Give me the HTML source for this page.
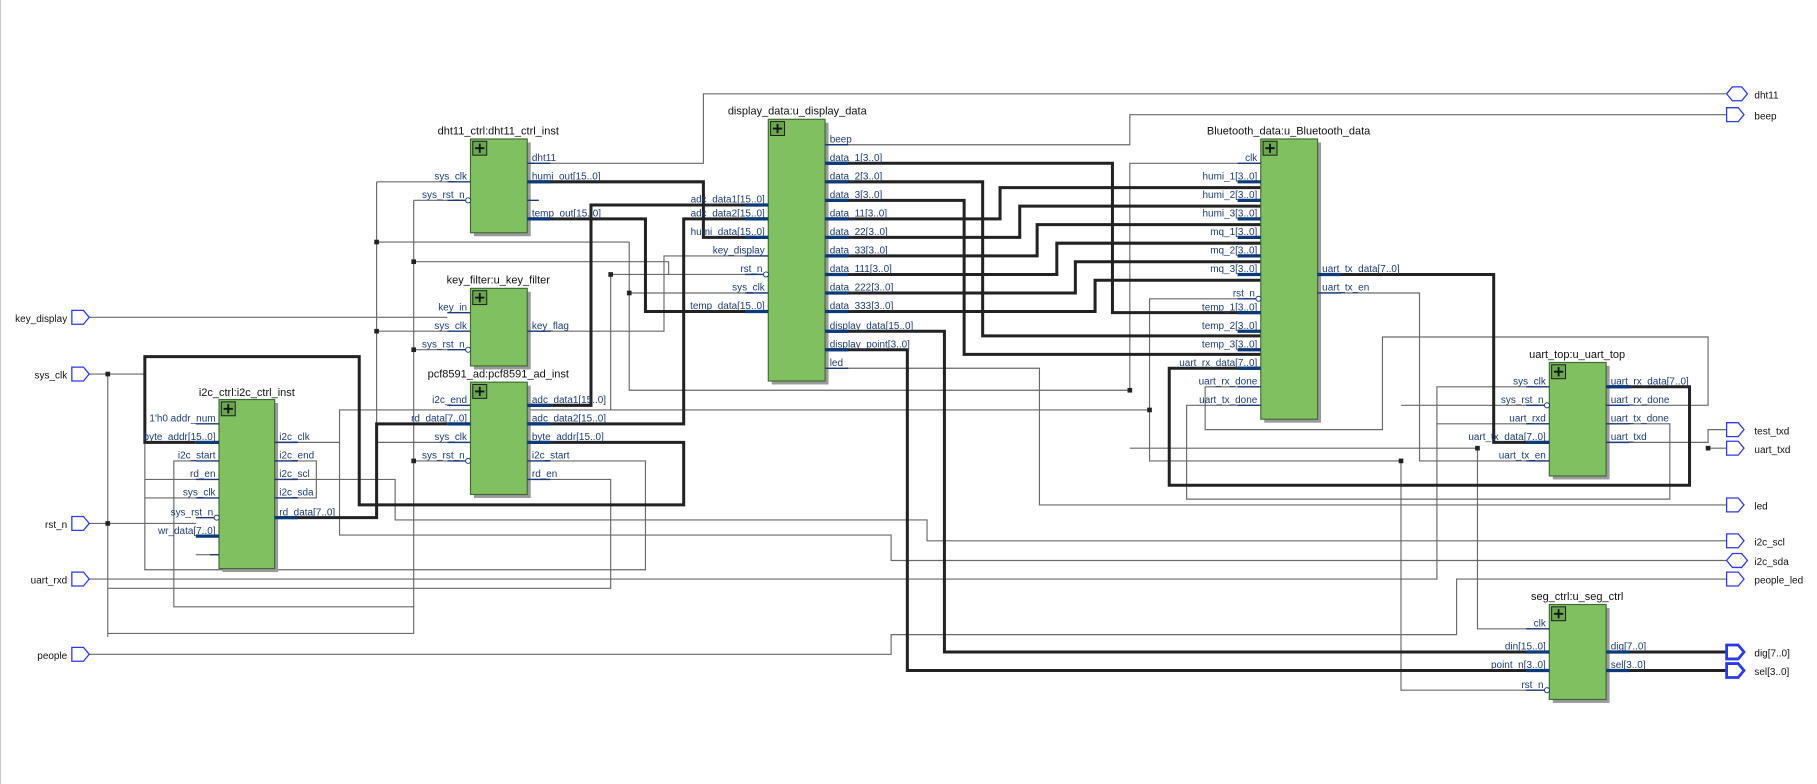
<!DOCTYPE html>
<html><head><meta charset="utf-8"><style>
html,body{margin:0;padding:0;background:#fff;width:1817px;height:784px;overflow:hidden}
svg{display:block}
text{font-family:"Liberation Sans",sans-serif;font-size:8.6px}
.l{fill:#1c3c78}
.e{text-anchor:end}
.t{fill:#111;font-size:9.5px;text-anchor:middle}
.pt{fill:#111;font-size:10px}
.w{stroke:#6a6a6a;stroke-width:1;fill:none}
.W{stroke:#222;stroke-width:2.6;fill:none}
.p{stroke:#1c3c78;stroke-width:1.2}
.P{stroke:#0a3a78;stroke-width:2.8}
.blk{fill:#80c060;stroke:#3f6a35;stroke-width:1}
.sh{fill:#9a9a9a}
.port{fill:#fff;stroke:#2a3ae8;stroke-width:1.1}
.portB{fill:#fff;stroke:#2a3ae8;stroke-width:2.4}
.bub{fill:#fff;stroke:#1c3c78;stroke-width:0.8}
</style></head><body>
<svg width="1817" height="784" viewBox="0 0 1568 677" preserveAspectRatio="none">
<line x1="0.5" y1="0" x2="0.5" y2="677" stroke="#c8c8c8" stroke-width="1"/>

<!-- thin wires -->
<path class="w" d="
M455,141 H607 V81 H1490
M712,125 H975 V99 H1490
M76,274 H386
M76,323 H93 V547 H357 V226 H577 V237 H663
M93,323 H125 V430 H169
M93,452 H76
M93,452 V550
M325,157 H386 M325,157 V323 M325,209 H543 V337 H975 V141 H1088
M325,286 H386 M325,209 V286
M325,382 H386 M325,323 V382
M357,173 H386 M357,302 H386 M357,398 H386 M357,173 V226
M93,452 H169
M543,253 H663 M543,209 V253
M527,237 H663 M527,237 V354 H293 V462 H769 V484 H1490
M455,286 H573 V221 H663
M237,382 H293 V354
M237,414 H341 V449 H800 V467 H1490
M76,500 H1240 V334 H1270 H1337
M76,565 H769 V548 H1257 V500 H1490
M712,318 H897 V436 H1490
M975,387 H1275 V543 H1337
M1137,253 H1225 V398 H1337
M1088,258 H992 V398 H1209 V596 H1337
M1209,350 H1337
M992,354 H293
M1386,350 H1474 V291 H1193 V371 H1040 V334 H1088
M1386,366 H1441 V431 H1024 V350 H1088
M1386,382 H1474 V371 H1490 M1474,387 H1490
M1240,366 H1337
M455,398 H557 V492 H125 V414 H169
M455,414 H527 V508 H93
M169,398 H150 V524 H357 V398
M237,398 H273 V430 H237
M169,463 H185 M169,479 H189
"/>
<!-- thick buses -->
<path class="W" d="
M455,157 H607 V205 H663
M455,189 H557 V269 H663
M455,350 H510 V177 H663
M455,366 H590 V189 H663
M455,382 H590 V436 H310 V308 H125 V382 H169
M237,447 H325 V366 H386
M712,141 H960 V270 H1088
M712,157 H848 V290 H1088
M712,173 H832 V306 H1088
M712,189 H863 V162 H1088
M712,205 H880 V178 H1088
M712,221 H895 V194 H1088
M712,237 H912 V210 H1088
M712,253 H928 V226 H1088
M712,269 H945 V242 H1088
M712,286 H815 V563 H1337
M712,302 H783 V579 H1337
M1137,237 H1289 V382 H1337
M1386,334 H1458 V419 H1009 V318 H1088
M1386,563 H1490 M1386,579 H1490
"/>
<!-- dots -->
<g fill="#222">
<rect x="91" y="321" width="4" height="4"/><rect x="91" y="450" width="4" height="4"/>
<rect x="323" y="207" width="4" height="4"/><rect x="323" y="284" width="4" height="4"/>
<rect x="355" y="224" width="4" height="4"/><rect x="355" y="300" width="4" height="4"/><rect x="355" y="396" width="4" height="4"/>
<rect x="541" y="251" width="4" height="4"/><rect x="525" y="235" width="4" height="4"/>
<rect x="973" y="335" width="4" height="4"/><rect x="990" y="352" width="4" height="4"/>
<rect x="1207" y="396" width="4" height="4"/><rect x="1273" y="385" width="4" height="4"/>
<rect x="1472" y="385" width="4" height="4"/>
</g>

<!-- ports left -->
<g class="port">
<polygon points="62,268 72,268 77,274 72,280 62,280"/>
<polygon points="62,317 72,317 77,323 72,329 62,329"/>
<polygon points="62,446 72,446 77,452 72,458 62,458"/>
<polygon points="62,494 72,494 77,500 72,506 62,506"/>
<polygon points="62,559 72,559 77,565 72,571 62,571"/>
</g>
<g class="pt">
<text x="58" y="278" text-anchor="end">key_display</text>
<text x="58" y="327" text-anchor="end">sys_clk</text>
<text x="58" y="456" text-anchor="end">rst_n</text>
<text x="58" y="504" text-anchor="end">uart_rxd</text>
<text x="58" y="569" text-anchor="end">people</text>
</g>
<!-- ports right -->
<g class="port">
<polygon points="1490,81 1495,75 1503,75 1508,81 1503,87 1495,87"/>
<polygon points="1490,93 1500,93 1505,99 1500,105 1490,105"/>
<polygon points="1490,365 1500,365 1505,371 1500,377 1490,377"/>
<polygon points="1490,381 1500,381 1505,387 1500,393 1490,393"/>
<polygon points="1490,430 1500,430 1505,436 1500,442 1490,442"/>
<polygon points="1490,461 1500,461 1505,467 1500,473 1490,473"/>
<polygon points="1490,484 1495,478 1503,478 1508,484 1503,490 1495,490"/>
<polygon points="1490,494 1500,494 1505,500 1500,506 1490,506"/>
</g>
<g class="portB">
<polygon points="1490,557 1500,557 1505,563 1500,569 1490,569"/>
<polygon points="1490,573 1500,573 1505,579 1500,585 1490,585"/>
</g>
<g class="pt">
<text x="1514" y="85">dht11</text><text x="1514" y="103">beep</text>
<text x="1514" y="375">test_txd</text><text x="1514" y="391">uart_txd</text>
<text x="1514" y="440">led</text><text x="1514" y="471">i2c_scl</text>
<text x="1514" y="488">i2c_sda</text><text x="1514" y="504">people_led</text>
<text x="1514" y="567">dig[7..0]</text><text x="1514" y="583">sel[3..0]</text>
</g>

<!-- blocks -->
<g>
<rect class="sh" x="409" y="123" width="49" height="81"/><rect class="blk" x="406" y="120" width="49" height="81"/>
<rect class="sh" x="409" y="252" width="49" height="67"/><rect class="blk" x="406" y="249" width="49" height="67"/>
<rect class="sh" x="409" y="333" width="49" height="97"/><rect class="blk" x="406" y="330" width="49" height="97"/>
<rect class="sh" x="192" y="348" width="48" height="146"/><rect class="blk" x="189" y="345" width="48" height="146"/>
<rect class="sh" x="666" y="106" width="49" height="226"/><rect class="blk" x="663" y="103" width="49" height="226"/>
<rect class="sh" x="1091" y="123" width="49" height="242"/><rect class="blk" x="1088" y="120" width="49" height="242"/>
<rect class="sh" x="1340" y="316" width="49" height="98"/><rect class="blk" x="1337" y="313" width="49" height="98"/>
<rect class="sh" x="1340" y="525" width="49" height="82"/><rect class="blk" x="1337" y="522" width="49" height="82"/>
</g>
<!-- plus icons -->
<g fill="#6aa84f" stroke="#222" stroke-width="0.9">
<rect x="408" y="122" width="12" height="12"/><rect x="408" y="251" width="12" height="12"/>
<rect x="408" y="332" width="12" height="12"/><rect x="191" y="347" width="12" height="12"/>
<rect x="665" y="105" width="12" height="12"/><rect x="1090" y="122" width="12" height="12"/>
<rect x="1339" y="315" width="12" height="12"/><rect x="1339" y="524" width="12" height="12"/>
</g>
<g stroke="#111" stroke-width="1.6">
<path d="M414,124V132M410,128H418 M414,253V261M410,257H418 M414,334V342M410,338H418 M197,349V357M193,353H201 M671,107V115M667,111H675 M1096,124V132M1092,128H1100 M1345,317V325M1341,321H1349 M1345,526V534M1341,530H1349"/>
</g>

<!-- titles -->
<g>
<text class="t" x="430" y="116">dht11_ctrl:dht11_ctrl_inst</text>
<text class="t" x="430" y="245">key_filter:u_key_filter</text>
<text class="t" x="430" y="326">pcf8591_ad:pcf8591_ad_inst</text>
<text class="t" x="213" y="342">i2c_ctrl:i2c_ctrl_inst</text>
<text class="t" x="688" y="99">display_data:u_display_data</text>
<text class="t" x="1112" y="116">Bluetooth_data:u_Bluetooth_data</text>
<text class="t" x="1361" y="309">uart_top:u_uart_top</text>
<text class="t" x="1361" y="518">seg_ctrl:u_seg_ctrl</text>
</g>

<!-- pin stubs thin -->
<path class="p" d="
M455,141h20 M455,173h10 M386,157h20 M386,173h17
M386,270h20 M386,286h20 M386,302h17 M455,286h20
M386,350h20 M386,382h20 M386,398h17 M455,398h20 M455,414h20
M169,366h20 M169,398h20 M169,414h20 M169,430h20 M169,447h17 M181,479h8 M237,382h20 M237,398h20 M237,414h20 M237,430h20
M712,125h20 M712,318h20 M643,221h20 M643,237h17 M643,253h20
M1068,141h20 M1068,258h17 M1068,334h20 M1068,350h20 M1137,253h20
M1317,334h20 M1317,350h17 M1317,366h20 M1317,398h20 M1386,350h20 M1386,366h20 M1386,382h20
M1317,543h20 M1317,596h17
"/>
<path class="P" d="
M455,157h20 M455,189h20 M455,350h20 M455,366h20 M455,382h20 M386,366h20
M169,382h20 M169,463h20 M237,447h20
M643,177h20 M643,189h20 M643,205h20 M643,269h20
M712,141h20 M712,157h20 M712,173h20 M712,189h20 M712,205h20 M712,221h20 M712,237h20 M712,253h20 M712,269h20 M712,286h20 M712,302h20
M1068,157h20 M1068,173h20 M1068,189h20 M1068,205h20 M1068,221h20 M1068,237h20 M1068,270h20 M1068,286h20 M1068,302h20 M1068,318h20
M1137,237h20 M1317,382h20 M1386,334h20 M1317,563h20 M1317,579h20 M1386,563h20 M1386,579h20
"/>
<!-- bubbles -->
<g class="bub">
<circle cx="404" cy="173" r="2.2"/><circle cx="404" cy="302" r="2.2"/><circle cx="404" cy="398" r="2.2"/>
<circle cx="187" cy="447" r="2.2"/><circle cx="661" cy="237" r="2.2"/><circle cx="1086" cy="258" r="2.2"/>
<circle cx="1335" cy="350" r="2.2"/><circle cx="1335" cy="596" r="2.2"/>
</g>

<!-- pin labels -->
<g class="l">
<text x="459" y="139">dht11</text><text x="459" y="155">humi_out[15..0]</text><text x="459" y="187">temp_out[15..0]</text>
<text class="e" x="403" y="155">sys_clk</text><text class="e" x="401" y="171">sys_rst_n</text>
<text class="e" x="403" y="268">key_in</text><text class="e" x="403" y="284">sys_clk</text><text class="e" x="401" y="300">sys_rst_n</text>
<text x="459" y="284">key_flag</text>
<text class="e" x="403" y="348">i2c_end</text><text class="e" x="403" y="364">rd_data[7..0]</text><text class="e" x="403" y="380">sys_clk</text><text class="e" x="401" y="396">sys_rst_n</text>
<text x="459" y="348">adc_data1[15..0]</text><text x="459" y="364">adc_data2[15..0]</text><text x="459" y="380">byte_addr[15..0]</text><text x="459" y="396">i2c_start</text><text x="459" y="412">rd_en</text>
<text class="e" x="186" y="364">1'h0 addr_num</text><text class="e" x="186" y="380">byte_addr[15..0]</text><text class="e" x="186" y="396">i2c_start</text><text class="e" x="186" y="412">rd_en</text><text class="e" x="186" y="428">sys_clk</text><text class="e" x="184" y="445">sys_rst_n</text><text class="e" x="186" y="461">wr_data[7..0]</text>
<text x="241" y="380">i2c_clk</text><text x="241" y="396">i2c_end</text><text x="241" y="412">i2c_scl</text><text x="241" y="428">i2c_sda</text><text x="241" y="445">rd_data[7..0]</text>
<text class="e" x="660" y="175">adc_data1[15..0]</text><text class="e" x="660" y="187">adc_data2[15..0]</text><text class="e" x="660" y="203">humi_data[15..0]</text><text class="e" x="660" y="219">key_display</text><text class="e" x="658" y="235">rst_n</text><text class="e" x="660" y="251">sys_clk</text><text class="e" x="660" y="267">temp_data[15..0]</text>
<text x="716" y="123">beep</text><text x="716" y="139">data_1[3..0]</text><text x="716" y="155">data_2[3..0]</text><text x="716" y="171">data_3[3..0]</text><text x="716" y="187">data_11[3..0]</text><text x="716" y="203">data_22[3..0]</text><text x="716" y="219">data_33[3..0]</text><text x="716" y="235">data_111[3..0]</text><text x="716" y="251">data_222[3..0]</text><text x="716" y="267">data_333[3..0]</text><text x="716" y="284">display_data[15..0]</text><text x="716" y="300">display_point[3..0]</text><text x="716" y="316">led</text>
<text class="e" x="1085" y="139">clk</text><text class="e" x="1085" y="155">humi_1[3..0]</text><text class="e" x="1085" y="171">humi_2[3..0]</text><text class="e" x="1085" y="187">humi_3[3..0]</text><text class="e" x="1085" y="203">mq_1[3..0]</text><text class="e" x="1085" y="219">mq_2[3..0]</text><text class="e" x="1085" y="235">mq_3[3..0]</text><text class="e" x="1083" y="256">rst_n</text><text class="e" x="1085" y="268">temp_1[3..0]</text><text class="e" x="1085" y="284">temp_2[3..0]</text><text class="e" x="1085" y="300">temp_3[3..0]</text><text class="e" x="1085" y="316">uart_rx_data[7..0]</text><text class="e" x="1085" y="332">uart_rx_done</text><text class="e" x="1085" y="348">uart_tx_done</text>
<text x="1141" y="235">uart_tx_data[7..0]</text><text x="1141" y="251">uart_tx_en</text>
<text class="e" x="1334" y="332">sys_clk</text><text class="e" x="1332" y="348">sys_rst_n</text><text class="e" x="1334" y="364">uart_rxd</text><text class="e" x="1334" y="380">uart_tx_data[7..0]</text><text class="e" x="1334" y="396">uart_tx_en</text>
<text x="1390" y="332">uart_rx_data[7..0]</text><text x="1390" y="348">uart_rx_done</text><text x="1390" y="364">uart_tx_done</text><text x="1390" y="380">uart_txd</text>
<text class="e" x="1334" y="541">clk</text><text class="e" x="1334" y="561">din[15..0]</text><text class="e" x="1334" y="577">point_n[3..0]</text><text class="e" x="1332" y="594">rst_n</text>
<text x="1390" y="561">dig[7..0]</text><text x="1390" y="577">sel[3..0]</text>
</g>
</svg>
</body></html>
